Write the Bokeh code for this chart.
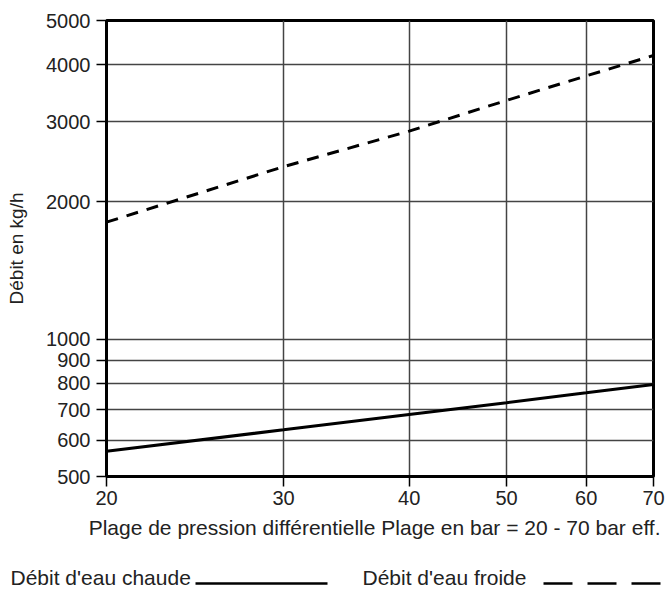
from bokeh.plotting import figure
from bokeh.models import FixedTicker, NumeralTickFormatter, Range1d, Title
from bokeh.layouts import column
from bokeh.core.properties import value
from bokeh.embed import file_html
from bokeh.resources import INLINE

# ---- data ----
pression = [20, 30, 40, 50, 60, 70]
debit_chaude = [568, 633, 684, 726, 763, 796]
debit_froide = [1806, 2390, 2860, 3340, 3780, 4190]
x_ticks = [20, 30, 40, 50, 60, 70]
y_ticks = [500, 600, 700, 800, 900, 1000, 2000, 3000, 4000, 5000]

FONT = "Liberation Sans"
TXT = "#222222"

p = figure(width=665, height=566, x_axis_type="log", y_axis_type="log",
           x_range=(20, 70), y_range=(500, 5000),
           output_backend="svg", toolbar_location=None,
           min_border_left=106, min_border_right=12, min_border_top=20,
           min_border_bottom=90)
p.frame_align = False

p.line(pression, debit_chaude, line_color="black", line_width=3)
p.line(pression, debit_froide, line_color="black", line_width=3, line_dash="12 9")

p.xaxis.ticker = FixedTicker(ticks=x_ticks, minor_ticks=[])
p.yaxis.ticker = FixedTicker(ticks=y_ticks, minor_ticks=[])
p.xaxis.formatter = NumeralTickFormatter(format="0")
p.yaxis.formatter = NumeralTickFormatter(format="0")

for ax in (p.xaxis, p.yaxis):
    ax.axis_line_color = "black"
    ax.axis_line_width = 3
    ax.major_tick_line_color = "black"
    ax.major_tick_line_width = 1.5
    ax.major_tick_out = 10
    ax.major_tick_in = 0
    ax.minor_tick_line_color = None
    ax.major_label_text_font = FONT
    ax.major_label_text_font_size = "20px"
    ax.major_label_text_color = TXT

p.xaxis.major_label_standoff = 4
p.yaxis.major_label_standoff = 6

p.yaxis.axis_label = "Débit en kg/h"
p.yaxis.axis_label_text_font = FONT
p.yaxis.axis_label_text_font_size = "19px"
p.yaxis.axis_label_text_font_style = "normal"
p.yaxis.axis_label_text_color = TXT
p.yaxis.axis_label_standoff = 16

p.add_layout(Title(text="Plage de pression différentielle Plage en bar = 20 - 70 bar eff.",
                   align="right", offset=-7, text_font=FONT, text_font_size="21px",
                   text_font_style="normal", text_color=TXT, standoff=12), "below")

p.xgrid.grid_line_color = "#444444"
p.ygrid.grid_line_color = "#444444"
p.xgrid.grid_line_width = 1.5
p.ygrid.grid_line_width = 1.5
p.outline_line_color = "black"
p.outline_line_width = 3
p.outline_line_alpha = 1

# ---- legend strip ----
lg = figure(width=665, height=25, x_range=Range1d(0, 665), y_range=Range1d(0, 25),
            output_backend="svg", toolbar_location=None,
            x_axis_location=None, y_axis_location=None,
            min_border=0, min_border_left=0, min_border_right=0,
            min_border_top=0, min_border_bottom=0)
lg.frame_align = False
lg.grid.visible = False
lg.outline_line_color = None

lg.text(x=[10], y=[3], text=["Débit d'eau chaude"], text_font=value(FONT),
        text_font_size="21px", text_baseline="bottom", text_color=TXT)
lg.segment(x0=[195], y0=[8], x1=[327], y1=[8], line_color="black", line_width=2.5)
lg.text(x=[362], y=[3], text=["Débit d'eau froide"], text_font=value(FONT),
        text_font_size="21px", text_baseline="bottom", text_color=TXT)
lg.segment(x0=[543], y0=[8], x1=[660], y1=[8], line_color="black", line_width=2.5,
           line_dash="29 15")

layout = column(p, lg, spacing=0)
open("out.html", "w").write(file_html(layout, INLINE))
